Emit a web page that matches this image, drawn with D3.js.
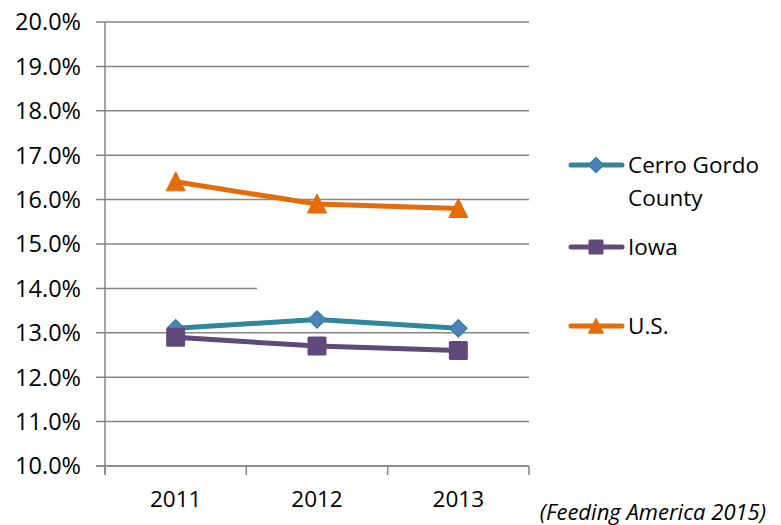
<!DOCTYPE html>
<html><head><meta charset="utf-8">
<script src="https://cdn.jsdelivr.net/npm/d3@7"></script>
<style>body{margin:0;background:#fff}svg{display:block}text{font-family:"Open Sans",sans-serif}</style>
</head><body><svg id="c" width="781" height="525"></svg>
<script>
const years = ["2011","2012","2013"];
const cerroGordo = [13.1, 13.3, 13.1];
const iowa = [12.9, 12.7, 12.6];
const us = [16.4, 15.9, 15.8];
const yTicks = [10,11,12,13,14,15,16,17,18,19,20];
const seriesNames = ["Cerro Gordo County","Iowa","U.S."];
const source = "(Feeding America 2015)";

const svg = d3.select("#c");
const x = d3.scaleBand().domain(years).range([105,529]);
const y = d3.scaleLinear().domain([10,20]).range([466,22]);
const grid = "#868686";

// gridlines
svg.append("g").selectAll("line").data(yTicks).join("line")
  .attr("x1",96).attr("x2",529).attr("y1",d=>y(d)).attr("y2",d=>y(d))
  .attr("stroke",grid).attr("stroke-width",1.5);
// artifact: white box masking part of 14% gridline
svg.append("rect").attr("x",257).attr("y",y(14)-4).attr("width",274).attr("height",8).attr("fill","#fff");

// y labels
svg.append("g").selectAll("text").data(yTicks).join("text")
  .attr("x",81).attr("y",d=>y(d)).attr("dy","0.36em").attr("text-anchor","end")
  .attr("font-size",23.5).attr("fill","#000").text(d=>d.toFixed(1)+"%");

// axes lines
svg.append("line").attr("x1",105).attr("x2",105).attr("y1",22).attr("y2",475).attr("stroke",grid).attr("stroke-width",1.5);
svg.append("line").attr("x1",96).attr("x2",529).attr("y1",466).attr("y2",466).attr("stroke",grid).attr("stroke-width",1.5);
const xt = [105].concat(years.map(d=>x(d)+x.bandwidth()));
svg.append("g").selectAll("line").data(xt).join("line")
  .attr("x1",d=>d).attr("x2",d=>d).attr("y1",466).attr("y2",475).attr("stroke",grid).attr("stroke-width",1.5);
svg.append("g").selectAll("text").data(years).join("text")
  .attr("x",d=>x(d)+x.bandwidth()/2).attr("y",507).attr("text-anchor","middle")
  .attr("font-size",22.5).attr("fill","#000").text(d=>d);

const series = [
  {name:seriesNames[0], vals:cerroGordo, color:"#31859C", mfill:"#4F81BD", sym:"diamond"},
  {name:seriesNames[1], vals:iowa, color:"#604A7B", mfill:"#604A7B", sym:"square"},
  {name:seriesNames[2], vals:us, color:"#E46C0A", mfill:"#E46C0A", sym:"triangle"}
];
const cx = d => x(d)+x.bandwidth()/2;
const line = d3.line().x((v,i)=>cx(years[i])).y(v=>y(v));

function marker(g, s, px, py, size){
  const r=size/2;
  if (s.sym==="diamond"){
    g.append("path").attr("d",`M${px},${py-r}L${px+r},${py}L${px},${py+r}L${px-r},${py}Z`)
      .attr("fill",s.mfill).attr("stroke",s.color).attr("stroke-width",1.5);
  } else if (s.sym==="square"){
    g.append("rect").attr("x",px-r).attr("y",py-r).attr("width",size).attr("height",size).attr("rx",1.5).attr("fill",s.mfill);
  } else {
    g.append("path").attr("d",`M${px},${py-r*1.05}L${px+r},${py+r*0.95}L${px-r},${py+r*0.95}Z`)
      .attr("fill",s.mfill).attr("stroke",s.mfill).attr("stroke-width",1).attr("stroke-linejoin","round");
  }
}

series.forEach(s=>{
  const g = svg.append("g");
  g.append("path").datum(s.vals).attr("d",line).attr("fill","none").attr("stroke",s.color)
    .attr("stroke-width",5).attr("stroke-linejoin","round").attr("stroke-linecap","round");
  s.vals.forEach((v,i)=>marker(g,s,cx(years[i]),y(v), s.sym==="diamond"?17:19));
});

// legend
const leg = [{s:series[0], y:165},{s:series[1], y:247},{s:series[2], y:326}];
leg.forEach(l=>{
  const g = svg.append("g");
  g.append("line").attr("x1",571).attr("x2",622).attr("y1",l.y).attr("y2",l.y)
    .attr("stroke",l.s.color).attr("stroke-width",5).attr("stroke-linecap","round");
  marker(g,l.s,596,l.y,15);
});
svg.append("text").attr("x",628).attr("y",165).attr("dy","0.36em").attr("font-size",22.5).text("Cerro Gordo");
svg.append("text").attr("x",628).attr("y",198).attr("dy","0.36em").attr("font-size",22.5).text("County");
svg.append("text").attr("x",628).attr("y",247).attr("dy","0.36em").attr("font-size",22.5).text(seriesNames[1]);
svg.append("text").attr("x",628).attr("y",326).attr("dy","0.36em").attr("font-size",22.5).text(seriesNames[2]);

svg.append("text").attr("x",766).attr("y",520).attr("text-anchor","end").attr("font-size",22)
  .attr("font-style","italic").text(source);
</script></body></html>
